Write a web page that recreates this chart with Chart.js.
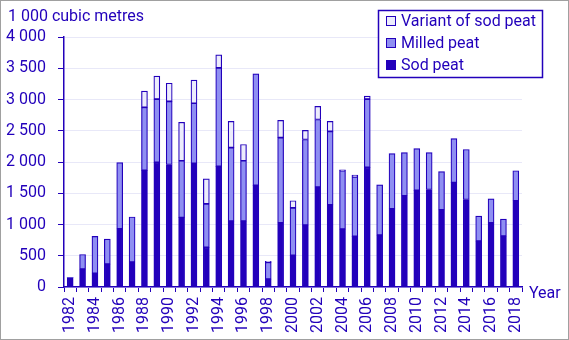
<!DOCTYPE html>
<html>
<head>
<meta charset="utf-8">
<script src="https://cdn.jsdelivr.net/npm/chart.js@4/dist/chart.umd.min.js"></script>
<style>
html,body{margin:0;padding:0;background:#fff;}
#wrap{position:relative;width:569px;height:340px;}
canvas{display:block;}
</style>
</head>
<body>
<div id="wrap"><canvas id="c" width="569" height="340"></canvas></div>
<script>
const years = ['1982','1983','1984','1985','1986','1987','1988','1989','1990','1991','1992','1993','1994','1995','1996','1997','1998','1999','2000','2001','2002','2003','2004','2005','2006','2007','2008','2009','2010','2011','2012','2013','2014','2015','2016','2017','2018'];
const sodPeat = [150,285,220,365,930,400,1865,1995,1960,1110,1980,635,1930,1055,1055,1625,125,1025,505,990,1600,1315,925,810,1915,830,1250,1460,1545,1560,1235,1670,1400,735,1025,815,1380];
const milledPeat = [0,235,590,400,1060,720,1010,1010,1010,910,960,695,1575,1175,965,1785,270,1365,760,1370,1080,1175,935,950,1090,805,885,690,670,590,610,705,800,400,385,270,480];
const variantSodPeat = [0,0,0,0,0,0,260,370,290,615,370,400,210,420,260,0,15,275,115,145,210,160,15,30,50,0,0,0,0,0,0,0,0,0,0,0,0];
const seriesNames = ['Sod peat','Milled peat','Variant of sod peat'];
const yTitle = '1 000 cubic metres';
const xTitle = 'Year';

const INK = '#2200bb';
const FILLS = ['#2200bb','#8f8ff2','#ececfc'];
const FONT = 'Roboto, "Noto Sans", sans-serif';

function fmt(v){ return String(v).replace(/\B(?=(\d{3})+(?!\d))/g,' '); }

const decor = {
  id:'decor',
  afterDraw(chart){
    const ctx = chart.ctx;
    const ca = chart.chartArea;
    ctx.save();
    // outer border
    ctx.strokeStyle = '#a0a0a0';
    ctx.lineWidth = 1;
    ctx.strokeRect(0.5,0.5,chart.width-1,chart.height-1);
    ctx.fillStyle = INK;
    ctx.font = '16px ' + FONT;
    ctx.textBaseline = 'middle';
    ctx.textAlign = 'left';
    ctx.fillText(yTitle, 8, 17);
    ctx.fillText(xTitle, ca.right + 7, ca.bottom + 7);
    // legend
    const lx = 378, ly = 10, lw = 164, lh = 67;
    ctx.fillStyle = '#fff';
    ctx.fillRect(lx, ly, lw, lh);
    ctx.strokeStyle = INK;
    ctx.lineWidth = 1.5;
    ctx.strokeRect(lx+0.5, ly+0.5, lw, lh);
    const order = [2,1,0];
    order.forEach((di,i)=>{
      const cy = ly + 11 + i*22;
      ctx.fillStyle = FILLS[di];
      ctx.fillRect(lx+8, cy-5, 10, 10);
      ctx.strokeStyle = INK;
      ctx.lineWidth = 1;
      ctx.strokeRect(lx+8.5, cy-4.5, 9, 9);
      ctx.fillStyle = INK;
      ctx.fillText(seriesNames[di], lx+23, cy+1);
    });
    ctx.restore();
  }
};

const bw = c => (c.raw ? 1.2 : 0);

new Chart(document.getElementById('c'), {
  type:'bar',
  data:{
    labels: years,
    datasets:[
      {label:seriesNames[0], data:sodPeat, backgroundColor:FILLS[0], borderColor:INK, borderWidth:bw, borderSkipped:false},
      {label:seriesNames[1], data:milledPeat, backgroundColor:FILLS[1], borderColor:INK, borderWidth:bw, borderSkipped:false},
      {label:seriesNames[2], data:variantSodPeat, backgroundColor:FILLS[2], borderColor:INK, borderWidth:bw, borderSkipped:false}
    ]
  },
  options:{
    responsive:false,
    animation:false,
    devicePixelRatio:1,
    barThickness:6,
    layout:{padding:{left:0,right:47,top:37,bottom:0}},
    plugins:{legend:{display:false},tooltip:{enabled:false},title:{display:false}},
    scales:{
      x:{
        stacked:true,
        grid:{display:true,offset:true,drawOnChartArea:false,drawTicks:true,tickLength:5,tickColor:INK,tickWidth:1},
        border:{display:true,color:INK,width:1.5},
        ticks:{
          autoSkip:false,minRotation:90,maxRotation:90,padding:5,color:INK,
          font:{family:FONT,size:16},
          callback:function(v,i){ const y = years[i]; return (+y % 2 === 0) ? y : ''; }
        },
        afterFit(s){ s.height = 53; }
      },
      y:{
        stacked:true,
        min:0,max:4000,
        grid:{color:'#e8e8f8',lineWidth:1,drawTicks:true,tickLength:6,tickColor:INK},
        border:{display:true,color:INK,width:1.5},
        ticks:{stepSize:500,padding:12,color:INK,font:{family:FONT,size:16},callback:v=>fmt(v)},
        afterFit(s){ s.width = 64; }
      }
    }
  },
  plugins:[decor]
});
</script>
</body>
</html>
